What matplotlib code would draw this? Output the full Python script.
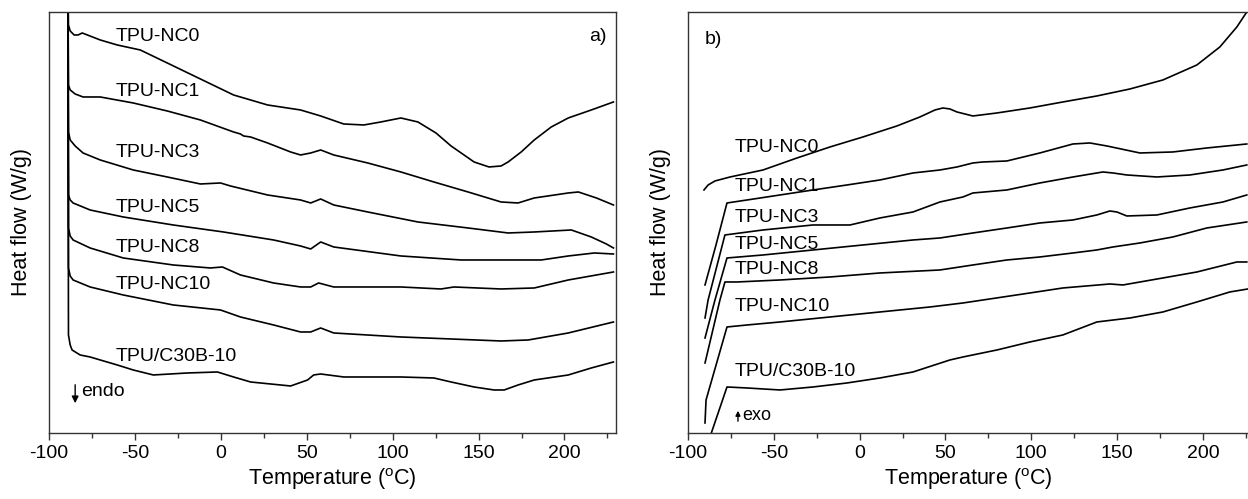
import matplotlib
matplotlib.use('Agg')
import matplotlib.pyplot as plt
from matplotlib.ticker import MultipleLocator

plt.rcParams['font.family'] = ['Liberation Sans', 'DejaVu Sans']
plt.rcParams['mathtext.fontset'] = 'custom'
plt.rcParams['mathtext.rm'] = 'Liberation Sans'
plt.rcParams['axes.unicode_minus'] = False

# ---- panel a) heating scans (temperature in degC, heat flow in arbitrary offset units)
a_nc0_t = [-89.0, -88.7, -87.7, -85.4, -83.1, -80.7, -70.2, -60.3, -46.9, -31.2, -11.9, 7.4, 27.2, 46.4,
           58.1, 71.5, 83.2, 93.1, 104.8, 114.7, 125.2, 134.0, 147.4, 156.1, 163.1, 167.2, 174.8, 182.4,
           192.3, 202.2, 215.6, 228.5]
a_nc0_hf = [453, 408, 402, 398, 398, 400, 393, 388, 383, 370, 354, 338, 328, 323, 317, 309, 308, 311, 315,
            311, 300, 287, 271, 266, 267, 271, 281, 293, 306, 315, 323, 331]

a_nc1_t = [-89.0, -88.7, -87.7, -84.8, -80.2, -70.2, -51.0, -31.2, -11.9, 7.4, 11.4, 13.2, 17.3, 27.2,
           40.6, 46.4, 52.3, 58.1, 65.7, 85.5, 104.8, 124.0, 143.9, 163.1, 173.0, 182.4, 202.2, 208.1,
           218.6, 228.5]
a_nc1_hf = [453, 348, 343, 339, 336, 336, 330, 322, 313, 301, 299, 297, 296, 290, 281, 278, 280, 283, 278,
            270, 261, 251, 241, 231, 230, 235, 240, 241, 235, 228]

a_nc3_t = [-89.0, -88.7, -87.7, -84.8, -80.2, -70.2, -51.0, -31.2, -11.9, -0.2, 5.6, 27.2, 46.4, 52.3,
           58.1, 65.7, 85.5, 114.7, 143.9, 167.2, 182.4, 204.0, 215.6, 224.4, 228.5]
a_nc3_hf = [453, 301, 293, 287, 280, 273, 263, 256, 249, 250, 247, 238, 233, 230, 234, 228, 221, 211, 205,
            200, 201, 203, 196, 189, 185]

a_nc5_t = [-89.0, -88.7, -87.7, -86.0, -76.1, -56.8, -27.7, 1.5, 30.7, 46.4, 52.3, 58.1, 65.7, 104.8,
           139.8, 186.5, 202.2, 217.4, 228.5]
a_nc5_hf = [453, 238, 233, 230, 223, 216, 208, 201, 193, 187, 184, 191, 186, 177, 173, 173, 177, 180, 179]

a_nc8_t = [-89.0, -88.7, -87.7, -86.0, -76.1, -56.8, -27.7, -6.1, 0.9, 11.4, 30.7, 46.4, 52.3, 56.9,
           65.7, 104.8, 128.1, 135.7, 163.1, 182.4, 202.2, 228.5]
a_nc8_hf = [453, 205, 197, 193, 185, 175, 168, 165, 166, 158, 150, 146, 146, 150, 146, 146, 144, 146, 144,
            145, 153, 161]

a_nc10_t = [-89.0, -88.7, -87.7, -86.0, -76.1, -56.8, -27.7, -0.2, 11.4, 30.7, 46.4, 52.3, 58.1, 65.7,
            104.8, 134.0, 163.1, 178.9, 202.2, 228.5]
a_nc10_hf = [453, 165, 157, 153, 146, 138, 128, 123, 116, 108, 101, 101, 105, 100, 96, 94, 92, 93, 100, 111]

a_c30b_t = [-89.0, -88.7, -87.7, -86.6, -81.9, -76.1, -70.2, -60.3, -51.0, -39.3, -19.5, -2.0, 7.4, 17.3,
            40.6, 50.5, 54.0, 58.1, 71.5, 104.8, 124.0, 134.0, 147.4, 159.0, 164.9, 173.0, 182.4, 202.2,
            215.6, 228.5]
a_c30b_hf = [453, 98, 88, 83, 78, 76, 73, 68, 63, 58, 60, 61, 56, 51, 47, 53, 58, 59, 56, 56, 55, 51, 46,
             43, 43, 48, 53, 58, 65, 71]

# ---- panel b) cooling scans
b_nc0_t = [-90.7, -88.3, -84.3, -75.5, -56.3, -36.5, -17.3, 1.9, 21.7, 35.1, 43.9, 48.5, 52.6, 56.7, 66.0,
           80.0, 99.2, 118.4, 138.2, 157.5, 176.7, 196.5, 209.9, 219.8, 225.6]
b_nc0_hf = [243, 248, 252, 256, 263, 275, 286, 296, 307, 316, 323, 325, 324, 321, 317, 320, 325, 331, 337,
            344, 353, 368, 386, 406, 421]

b_nc1_t = [-90.1, -83.7, -77.3, -65.6, -46.4, -27.2, -7.4, 11.8, 31.1, 46.8, 56.7, 66.0, 71.8, 85.8, 105.0,
           124.3, 134.2, 144.1, 163.3, 182.5, 202.3, 225.6]
b_nc1_hf = [148, 188, 230, 233, 238, 243, 248, 253, 260, 263, 266, 270, 271, 272, 280, 289, 290, 287, 280,
            281, 285, 289]

b_nc3_t = [-90.1, -88.3, -78.5, -56.3, -27.2, -5.6, 11.8, 31.1, 46.8, 60.2, 66.0, 85.8, 105.0, 124.3,
           141.7, 147.6, 155.7, 173.2, 192.4, 211.7, 225.6]
b_nc3_hf = [115, 133, 198, 203, 208, 208, 215, 221, 231, 236, 240, 243, 250, 256, 261, 260, 258, 256, 258,
            263, 268]

b_nc5_t = [-90.1, -84.3, -77.3, -56.3, -27.2, 1.9, 31.1, 46.8, 66.0, 85.8, 105.0, 124.3, 138.2, 145.8,
           149.9, 155.7, 173.2, 192.4, 211.7, 225.6]
b_nc5_hf = [95, 133, 175, 178, 183, 188, 193, 195, 200, 205, 210, 213, 218, 222, 221, 217, 218, 225, 231,
            238]

b_nc8_t = [-90.1, -81.4, -78.5, -71.5, -46.4, -17.3, 11.8, 46.8, 66.0, 85.8, 105.0, 124.3, 138.2, 147.6,
           163.3, 182.5, 202.3, 225.6]
b_nc8_hf = [70, 133, 151, 151, 153, 156, 160, 163, 168, 173, 176, 180, 183, 186, 190, 196, 205, 211]

b_nc10_t = [-90.1, -89.5, -77.3, -65.6, -46.4, -17.3, 11.8, 41.0, 60.2, 99.2, 118.4, 145.8, 153.4, 176.7,
            196.5, 219.8, 225.6]
b_nc10_hf = [10, 33, 106, 108, 111, 116, 121, 126, 130, 140, 145, 149, 148, 155, 161, 171, 171]

b_c30b_t = [-87.8, -77.3, -65.6, -46.4, -27.2, -7.4, 11.8, 31.1, 52.6, 60.2, 80.0, 99.2, 118.4, 138.2,
            157.5, 176.7, 196.5, 215.7, 226.2]
b_c30b_hf = [-7, 46, 45, 43, 46, 50, 55, 61, 73, 76, 83, 91, 98, 111, 115, 121, 131, 141, 144]

names = ['TPU-NC0', 'TPU-NC1', 'TPU-NC3', 'TPU-NC5', 'TPU-NC8', 'TPU-NC10', 'TPU/C30B-10']
a_curves = [(a_nc0_t, a_nc0_hf), (a_nc1_t, a_nc1_hf), (a_nc3_t, a_nc3_hf), (a_nc5_t, a_nc5_hf),
            (a_nc8_t, a_nc8_hf), (a_nc10_t, a_nc10_hf), (a_c30b_t, a_c30b_hf)]
b_curves = [(b_nc0_t, b_nc0_hf), (b_nc1_t, b_nc1_hf), (b_nc3_t, b_nc3_hf), (b_nc5_t, b_nc5_hf),
            (b_nc8_t, b_nc8_hf), (b_nc10_t, b_nc10_hf), (b_c30b_t, b_c30b_hf)]
# label anchor heights (same units as heat flow)
a_label_y = [396, 341, 280, 225, 185, 148, 76]
b_label_y = [285, 246, 215, 188, 163, 126, 61]

fig = plt.figure(figsize=(12.48, 4.99), dpi=100)
ax_a = fig.add_axes([0.0393, 0.1323, 0.4543, 0.8437])
ax_b = fig.add_axes([0.5513, 0.1323, 0.4487, 0.8437])

xlabel = r'Temperature ($^{\rm o}$C)'
for ax, curves, label_y, xmax in [(ax_a, a_curves, a_label_y, 230), (ax_b, b_curves, b_label_y, 226.3)]:
    for (t, hf) in curves:
        ax.plot(t, hf, color='black', lw=1.2, solid_joinstyle='round')
    ax.set_xlim(-100, xmax)
    ax.set_ylim(0, 421)
    ax.set_yticks([])
    ax.xaxis.set_major_locator(MultipleLocator(50))
    ax.xaxis.set_minor_locator(MultipleLocator(25))
    ax.tick_params(axis='x', which='major', direction='out', length=5, width=1, labelsize=14,
                   pad=4, color='#333333')
    ax.tick_params(axis='x', which='minor', direction='out', length=3.5, width=1, color='#333333')
    for s in ax.spines.values():
        s.set_color('#333333')
        s.set_linewidth(1.0)
    ax.set_xlabel(xlabel, fontsize=15.5, labelpad=3)
    ax.set_ylabel('Heat flow (W/g)', fontsize=15.5, labelpad=12)

for name, y in zip(names, a_label_y):
    ax_a.text(-61.5, y, name, fontsize=14, ha='left', va='center')
for name, y in zip(names, b_label_y):
    ax_b.text(-72.6, y, name, fontsize=14, ha='left', va='center')

ax_b.spines['right'].set_visible(False)

ax_a.text(224.4, 396, 'a)', fontsize=14, ha='right', va='center')
ax_b.text(-90.1, 393, 'b)', fontsize=14, ha='left', va='center')

# endo / exo markers
ax_a.annotate('', xy=(-84.8, 27), xytext=(-84.8, 51),
              arrowprops=dict(arrowstyle='-|>', color='black', lw=1, mutation_scale=10))
ax_a.text(-81.5, 41, 'endo', fontsize=14, ha='left', va='center')
ax_b.annotate('', xy=(-70.9, 25), xytext=(-70.9, 9),
              arrowprops=dict(arrowstyle='-|>', color='black', lw=1, mutation_scale=7))
ax_b.text(-68.5, 17, 'exo', fontsize=13, ha='left', va='center')

fig.savefig('out.png', dpi=100)
